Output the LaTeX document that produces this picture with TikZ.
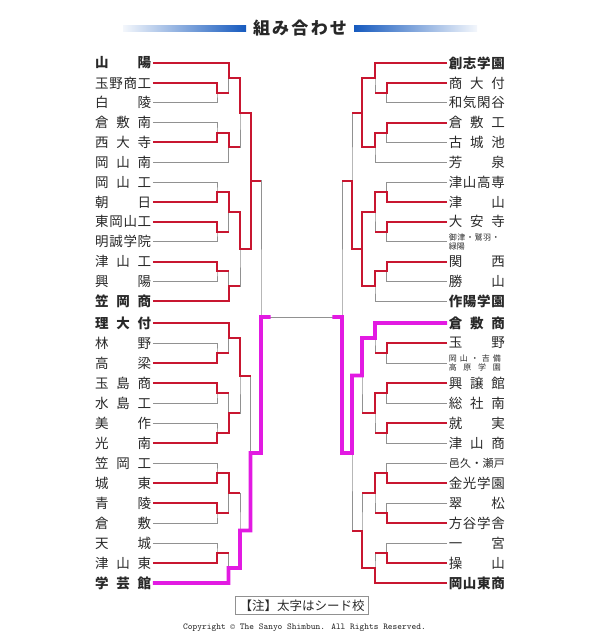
\documentclass[tikz,border=0pt]{standalone}
\usepackage{fontspec}
\newfontfamily\jp{Noto Sans CJK JP}
\usetikzlibrary{calc}
\definecolor{winred}{RGB}{200,22,48}
\definecolor{finalpink}{RGB}{226,26,226}
\definecolor{linegray}{RGB}{145,145,145}
\definecolor{barblue}{RGB}{22,90,190}
\definecolor{namegray}{RGB}{40,40,40}
\newcommand\spread[2][56pt]{\makebox[#1][s]{\spreadi#2\relax}}
\def\spreadi#1#2{#1\ifx\relax#2\else\hfill\expandafter\spreadi\expandafter#2\fi}

\begin{document}
\begin{tikzpicture}[x=1pt,y=-1pt,
    team/.style={inner xsep=1.5pt,inner ysep=0pt,text=namegray,font=\jp\fontsize{13.5}{14}\selectfont},
    seed/.style={team,font=\jp\bfseries\fontsize{13.5}{14}\selectfont},
    twoline/.style={team,text width=56pt,align=left,font=\jp\fontsize{8}{8.8}\selectfont},
    lose/.style={linegray,line width=0.9pt},
    win/.style={winred,line width=2pt},
    finalist/.style={finalpink,line width=3.6pt}]
    \useasboundingbox (0,0) rectangle (600,637);

    \shade[left color=barblue!5,right color=barblue] (123,25) rectangle (246,31);
    \shade[left color=barblue,right color=barblue!5] (354,25) rectangle (477,31);
    \node[text=namegray,font=\jp\bfseries\fontsize{17}{17}\selectfont] (title) at (300,28) {\spread[94pt]{組み合わせ}};

    \node[seed,anchor=west] (L1) at (93.5,63) {\spread{山陽}};
    \node[team,anchor=west] (L2) at (93.5,82.9) {\spread{玉野商工}};
    \node[team,anchor=west] (L3) at (93.5,102.7) {\spread{白陵}};
    \node[team,anchor=west] (L4) at (93.5,122.6) {\spread{倉敷南}};
    \node[team,anchor=west] (L5) at (93.5,142.4) {\spread{西大寺}};
    \node[team,anchor=west] (L6) at (93.5,162.3) {\spread{岡山南}};
    \node[team,anchor=west] (L7) at (93.5,182.1) {\spread{岡山工}};
    \node[team,anchor=west] (L8) at (93.5,202) {\spread{朝日}};
    \node[team,anchor=west] (L9) at (93.5,221.8) {\spread{東岡山工}};
    \node[team,anchor=west] (L10) at (93.5,241.7) {\spread{明誠学院}};
    \node[team,anchor=west] (L11) at (93.5,261.5) {\spread{津山工}};
    \node[team,anchor=west] (L12) at (93.5,281.4) {\spread{興陽}};
    \node[seed,anchor=west] (L13) at (93.5,301.2) {\spread{笠岡商}};
    \node[seed,anchor=west] (L14) at (93.5,323) {\spread{理大付}};
    \node[team,anchor=west] (L15) at (93.5,343) {\spread{林野}};
    \node[team,anchor=west] (L16) at (93.5,363) {\spread{高梁}};
    \node[team,anchor=west] (L17) at (93.5,383) {\spread{玉島商}};
    \node[team,anchor=west] (L18) at (93.5,403) {\spread{水島工}};
    \node[team,anchor=west] (L19) at (93.5,423) {\spread{美作}};
    \node[team,anchor=west] (L20) at (93.5,443) {\spread{光南}};
    \node[team,anchor=west] (L21) at (93.5,463) {\spread{笠岡工}};
    \node[team,anchor=west] (L22) at (93.5,483) {\spread{城東}};
    \node[team,anchor=west] (L23) at (93.5,503) {\spread{青陵}};
    \node[team,anchor=west] (L24) at (93.5,523) {\spread{倉敷}};
    \node[team,anchor=west] (L25) at (93.5,543) {\spread{天城}};
    \node[team,anchor=west] (L26) at (93.5,563) {\spread{津山東}};
    \node[seed,anchor=west] (L27) at (93.5,583) {\spread{学芸館}};

    \node[seed,anchor=east] (R1) at (506.5,63) {\spread{創志学園}};
    \node[team,anchor=east] (R2) at (506.5,82.9) {\spread{商大付}};
    \node[team,anchor=east] (R3) at (506.5,102.7) {\spread{和気閑谷}};
    \node[team,anchor=east] (R4) at (506.5,122.6) {\spread{倉敷工}};
    \node[team,anchor=east] (R5) at (506.5,142.4) {\spread{古城池}};
    \node[team,anchor=east] (R6) at (506.5,162.3) {\spread{芳泉}};
    \node[team,anchor=east] (R7) at (506.5,182.1) {\spread{津山高専}};
    \node[team,anchor=east] (R8) at (506.5,202) {\spread{津山}};
    \node[team,anchor=east] (R9) at (506.5,221.8) {\spread{大安寺}};
    \node[twoline,anchor=east] (R10) at (506.5,241.7) {\spread[51pt]{御津・鷲羽・}\\緑陽};
    \node[team,anchor=east] (R11) at (506.5,261.5) {\spread{関西}};
    \node[team,anchor=east] (R12) at (506.5,281.4) {\spread{勝山}};
    \node[seed,anchor=east] (R13) at (506.5,301.2) {\spread{作陽学園}};
    \node[seed,anchor=east] (R14) at (506.5,323) {\spread{倉敷商}};
    \node[team,anchor=east] (R15) at (506.5,343) {\spread{玉野}};
    \node[twoline,anchor=east] (R16) at (506.5,363) {\spread[52pt]{岡山・吉備}\\\spread[52pt]{高原学園}};
    \node[team,anchor=east] (R17) at (506.5,383) {\spread{興譲館}};
    \node[team,anchor=east] (R18) at (506.5,403) {\spread{総社南}};
    \node[team,anchor=east] (R19) at (506.5,423) {\spread{就実}};
    \node[team,anchor=east] (R20) at (506.5,443) {\spread{津山商}};
    \node[team,anchor=east,font=\jp\fontsize{11}{12}\selectfont] (R21) at (506.5,463) {\spread{邑久・瀬戸}};
    \node[team,anchor=east] (R22) at (506.5,483) {\spread{金光学園}};
    \node[team,anchor=east] (R23) at (506.5,503) {\spread{翠松}};
    \node[team,anchor=east] (R24) at (506.5,523) {\spread{方谷学舎}};
    \node[team,anchor=east] (R25) at (506.5,543) {\spread{一宮}};
    \node[team,anchor=east] (R26) at (506.5,563) {\spread{操山}};
    \node[seed,anchor=east] (R27) at (506.5,583) {\spread{岡山東商}};

    \coordinate (la23) at (217,92.8);
    \coordinate (la45) at (217,132.5);
    \coordinate (la78) at (217,192.05);
    \coordinate (la910) at (217,231.75);
    \coordinate (la1112) at (217,271.45);
    \coordinate (la1516) at (217,353);
    \coordinate (la1718) at (217,393);
    \coordinate (la1920) at (217,433);
    \coordinate (la2122) at (217,473);
    \coordinate (la2324) at (217,513);
    \coordinate (la2526) at (217,553);
    \coordinate (lb1) at (228.5,77.9);
    \coordinate (lb2) at (228.5,147.4);
    \coordinate (lb3) at (228.5,211.9);
    \coordinate (lb4) at (228.5,286.3);
    \coordinate (lb5) at (228.5,338);
    \coordinate (lb6) at (228.5,413);
    \coordinate (lb7) at (228.5,493);
    \coordinate (lb8) at (228.5,568);
    \coordinate (lc1) at (240,112.65);
    \coordinate (lc2) at (240,249.1);
    \coordinate (lc3) at (240,375.5);
    \coordinate (lc4) at (240,530.5);
    \coordinate (ld1) at (250.5,180.9);
    \coordinate (ld2) at (250.5,453);
    \coordinate (le) at (261,316.95);

    \coordinate (ra23) at (386.5,92.8);
    \coordinate (ra45) at (386.5,132.5);
    \coordinate (ra78) at (386.5,192.05);
    \coordinate (ra910) at (386.5,231.75);
    \coordinate (ra1112) at (386.5,271.45);
    \coordinate (ra1516) at (386.5,353);
    \coordinate (ra1718) at (386.5,393);
    \coordinate (ra1920) at (386.5,433);
    \coordinate (ra2122) at (386.5,473);
    \coordinate (ra2324) at (386.5,513);
    \coordinate (ra2526) at (386.5,553);
    \coordinate (rb1) at (375,77.9);
    \coordinate (rb2) at (375,147.4);
    \coordinate (rb3) at (375,211.9);
    \coordinate (rb4) at (375,286.3);
    \coordinate (rb5) at (375,338);
    \coordinate (rb6) at (375,413);
    \coordinate (rb7) at (375,493);
    \coordinate (rb8) at (375,568);
    \coordinate (rc1) at (362,112.65);
    \coordinate (rc2) at (362,249.1);
    \coordinate (rc3) at (362,375.5);
    \coordinate (rc4) at (362,530.5);
    \coordinate (rd1) at (352,180.9);
    \coordinate (rd2) at (352,453);
    \coordinate (re) at (342,316.95);

    \draw[lose] (L2.east) -| (la23) |- (L3.east) (L4.east) -| (la45) |- (L5.east)
        (L7.east) -| (la78) |- (L8.east) (L9.east) -| (la910) |- (L10.east)
        (L11.east) -| (la1112) |- (L12.east) (L15.east) -| (la1516) |- (L16.east)
        (L17.east) -| (la1718) |- (L18.east) (L19.east) -| (la1920) |- (L20.east)
        (L21.east) -| (la2122) |- (L22.east) (L23.east) -| (la2324) |- (L24.east)
        (L25.east) -| (la2526) |- (L26.east);
    \draw[lose] (L1.east) -| (lb1) |- (la23) (la45) -| (lb2) |- (L6.east)
        (la78) -| (lb3) |- (la910) (la1112) -| (lb4) |- (L13.east)
        (L14.east) -| (lb5) |- (la1516) (la1718) -| (lb6) |- (la1920)
        (la2122) -| (lb7) |- (la2324) (la2526) -| (lb8) |- (L27.east);
    \draw[lose] (lb1) -| (lc1) |- (lb2) (lb3) -| (lc2) |- (lb4)
        (lb5) -| (lc3) |- (lb6) (lb7) -| (lc4) |- (lb8)
        (lc1) -| (ld1) |- (lc2) (lc3) -| (ld2) |- (lc4) (ld1) -| (le) |- (ld2);

    \draw[lose] (R2.west) -| (ra23) |- (R3.west) (R4.west) -| (ra45) |- (R5.west)
        (R7.west) -| (ra78) |- (R8.west) (R9.west) -| (ra910) |- (R10.west)
        (R11.west) -| (ra1112) |- (R12.west) (R15.west) -| (ra1516) |- (R16.west)
        (R17.west) -| (ra1718) |- (R18.west) (R19.west) -| (ra1920) |- (R20.west)
        (R21.west) -| (ra2122) |- (R22.west) (R23.west) -| (ra2324) |- (R24.west)
        (R25.west) -| (ra2526) |- (R26.west);
    \draw[lose] (R1.west) -| (rb1) |- (ra23) (ra45) -| (rb2) |- (R6.west)
        (ra78) -| (rb3) |- (ra910) (ra1112) -| (rb4) |- (R13.west)
        (R14.west) -| (rb5) |- (ra1516) (ra1718) -| (rb6) |- (ra1920)
        (ra2122) -| (rb7) |- (ra2324) (ra2526) -| (rb8) |- (R27.west);
    \draw[lose] (rb1) -| (rc1) |- (rb2) (rb3) -| (rc2) |- (rb4)
        (rb5) -| (rc3) |- (rb6) (rb7) -| (rc4) |- (rb8)
        (rc1) -| (rd1) |- (rc2) (rc3) -| (rd2) |- (rc4) (rd1) -| (re) |- (rd2);
    \draw[lose] (le) -- (re);

    \draw[win] (L1.east) -| (lb1) -| (lc1) -| (ld1) -- (ld1 -| le);
    \draw[win] (L2.east) -| (la23) -- (la23 -| lb1);
    \draw[win] (L5.east) -| (la45) -| (lb2) -- (lb2 -| lc1);
    \draw[win] (L8.east) -| (la78) -| (lb3) -| (lc2) -| (ld1);
    \draw[win] (L9.east) -| (la910) -- (la910 -| lb3);
    \draw[win] (L11.east) -| (la1112) -- (la1112 -| lb4);
    \draw[win] (L13.east) -| (lb4) -- (lb4 -| lc2);
    \draw[win] (L14.east) -| (lb5) -| (lc3) -- (lc3 -| ld2);
    \draw[win] (L16.east) -| (la1516) -- (la1516 -| lb5);
    \draw[win] (L17.east) -| (la1718) -- (la1718 -| lb6);
    \draw[win] (L20.east) -| (la1920) -| (lb6) -- (lb6 -| lc3);
    \draw[win] (L22.east) -| (la2122) -| (lb7) -- (lb7 -| lc4);
    \draw[win] (L23.east) -| (la2324) -- (la2324 -| lb7);
    \draw[win] (L26.east) -| (la2526) -- (la2526 -| lb8);

    \draw[win] (R1.west) -| (rb1) -| (rc1) -- (rc1 -| rd1);
    \draw[win] (R2.west) -| (ra23) -- (ra23 -| rb1);
    \draw[win] (R4.west) -| (ra45) -| (rb2) -| (rc1);
    \draw[win] (R8.west) -| (ra78) -| (rb3) -| (rc2) -| (rd1) -- (rd1 -| re);
    \draw[win] (R9.west) -| (ra910) -- (ra910 -| rb3);
    \draw[win] (R11.west) -| (ra1112) -| (rb4) -| (rc2);
    \draw[win] (R15.west) -| (ra1516) -- (ra1516 -| rb5);
    \draw[win] (R17.west) -| (ra1718) -| (rb6) -- (rb6 -| rc3);
    \draw[win] (R19.west) -| (ra1920) -- (ra1920 -| rb6);
    \draw[win] (R22.west) -| (ra2122) -| (rb7) -- (rb7 -| rc4);
    \draw[win] (R24.west) -| (ra2324) -- (ra2324 -| rb7);
    \draw[win] (R26.west) -| (ra2526) -- (ra2526 -| rb8);
    \draw[win] (R27.west) -| (rb8) -| (rc4) -- (rc4 -| rd2);

    \draw[finalist] (L27.east) -| (lb8) -| (lc4) -| (ld2) -| (le) -- ($(le)!0.12!(re)$);
    \draw[finalist] (R14.west) -| (rb5) -| (rc3) -| (rd2) -| (re) -- ($(re)!0.12!(le)$);

    \node[draw=linegray,line width=0.8pt,inner xsep=4pt,inner ysep=3pt,text=namegray,
        font=\jp\fontsize{12.5}{13}\selectfont] (note) at (302,605.5) {【注】太字はシード校};
    \node[text=namegray,font=\ttfamily\fontsize{9}{9}\selectfont] (copyright) at (304.5,628)
        {Copyright © The Sanyo Shimbun. All Rights Reserved.};
\end{tikzpicture}
\end{document}
